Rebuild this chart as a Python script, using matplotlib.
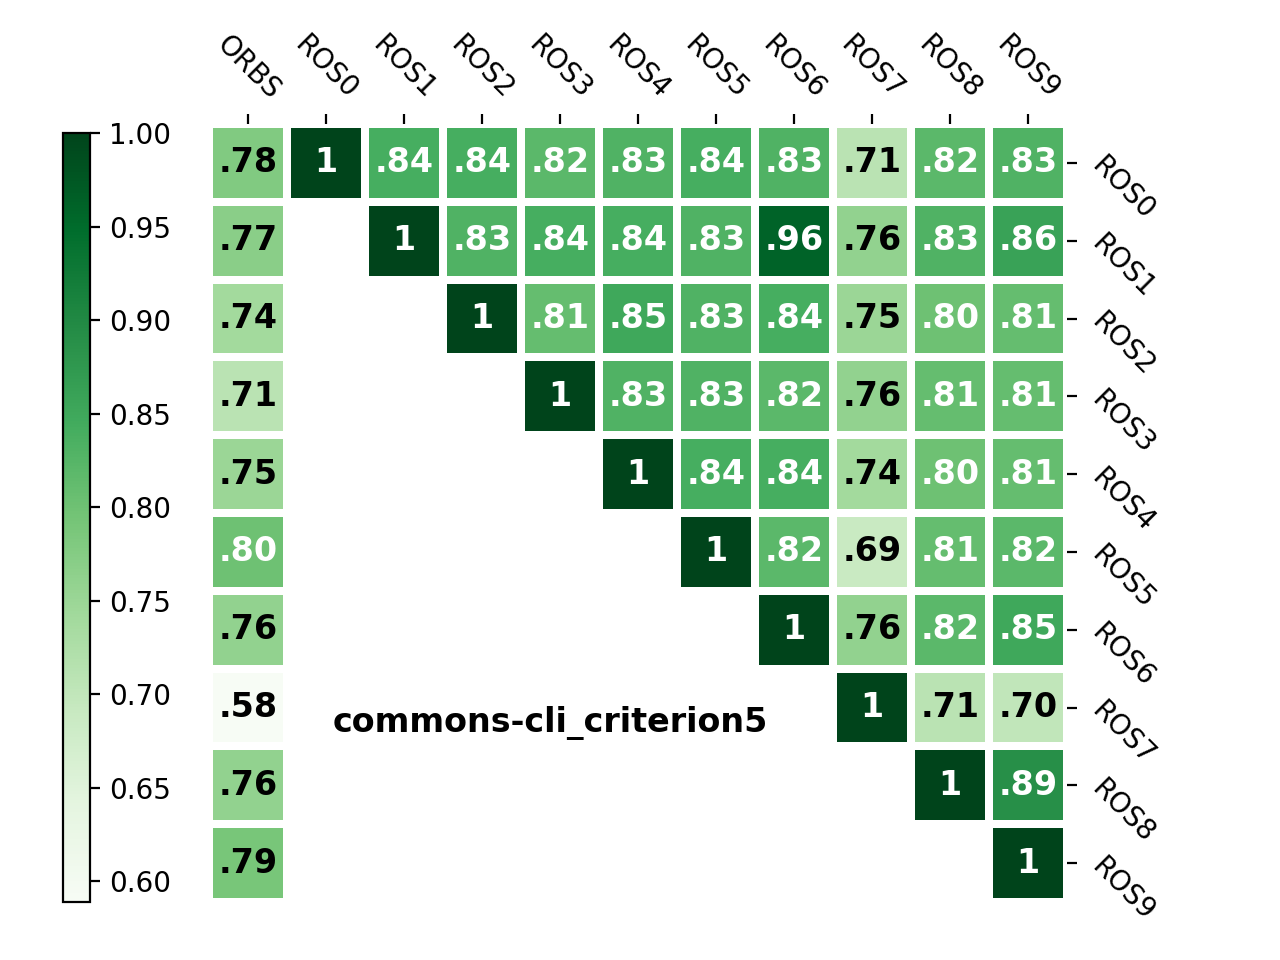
import numpy as np
import matplotlib
matplotlib.use('Agg')
from matplotlib import pyplot as plt

cols = ['ORBS', 'ROS0', 'ROS1', 'ROS2', 'ROS3', 'ROS4', 'ROS5', 'ROS6', 'ROS7', 'ROS8', 'ROS9']
rows = ['ROS0', 'ROS1', 'ROS2', 'ROS3', 'ROS4', 'ROS5', 'ROS6', 'ROS7', 'ROS8', 'ROS9']
N = np.nan
vals = [
    [.78, 1, .84, .84, .82, .83, .84, .83, .71, .82, .83],
    [.77, N, 1, .83, .84, .84, .83, .96, .76, .83, .86],
    [.74, N, N, 1, .81, .85, .83, .84, .75, .80, .81],
    [.71, N, N, N, 1, .83, .83, .82, .76, .81, .81],
    [.75, N, N, N, N, 1, .84, .84, .74, .80, .81],
    [.80, N, N, N, N, N, 1, .82, .69, .81, .82],
    [.76, N, N, N, N, N, N, 1, .76, .82, .85],
    [.58, N, N, N, N, N, N, N, 1, .71, .70],
    [.76, N, N, N, N, N, N, N, N, 1, .89],
    [.79, N, N, N, N, N, N, N, N, N, 1],
]
title = 'commons-cli_criterion5'
vmin, vmax = 0.589, 1.0

data = np.ma.masked_invalid(np.array(vals, dtype=float))

fig = plt.figure(figsize=(6.4, 4.8), dpi=200)
ax = fig.add_axes([209/1280, 1-902/960, 858/1280, 778/960])
cax = fig.add_axes([63/1280, 1-902/960, 27/1280, 769/960])

mesh = ax.pcolormesh(data, cmap='Greens', vmin=vmin, vmax=vmax,
                     edgecolors='white', linewidth=2.8)
ax.set_xlim(0, len(cols))
ax.set_ylim(len(rows), 0)
for s in ax.spines.values():
    s.set_visible(False)

ax.xaxis.tick_top()
ax.yaxis.tick_right()
ax.set_xticks(np.arange(len(cols)) + 0.5)
ax.set_xticklabels(cols, rotation=-45, ha='center', va='bottom')
ax.set_yticks(np.arange(len(rows)) + 0.5)
ax.set_yticklabels(rows, rotation=-45, ha='left')

for i in range(len(rows)):
    for j in range(len(cols)):
        v = vals[i][j]
        if np.isnan(v):
            continue
        txt = '1' if v == 1 else ('%.2f' % v)[1:]
        c = 'white' if v >= 0.795 else 'black'
        ax.text(j + 0.5, i + 0.5, txt, ha='center', va='center',
                color=c, fontsize=12, fontweight='bold')

ax.text(4.37, 7.7, title, ha='center', va='center', fontsize=12, fontweight='bold')

cb = fig.colorbar(mesh, cax=cax)
cb.set_ticks([0.6, 0.65, 0.7, 0.75, 0.8, 0.85, 0.9, 0.95, 1.0])
cb.ax.yaxis.set_major_formatter(matplotlib.ticker.FormatStrFormatter('%.2f'))

fig.savefig('out.png', dpi=200)
